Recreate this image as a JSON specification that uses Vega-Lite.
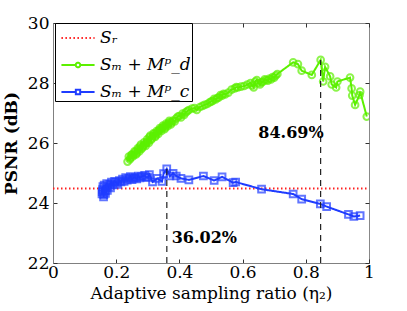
{
  "$schema": "https://vega.github.io/schema/vega-lite/v6.json",
  "width": 316,
  "height": 240,
  "autosize": {"type": "none"},
  "padding": {"left": 53, "top": 23, "right": 38, "bottom": 48},
  "background": "white",
  "config": {
    "view": {"stroke": "#888888", "strokeWidth": 1},
    "font": "DejaVu Serif",
    "axis": {
      "grid": false,
      "domainColor": "#808080",
      "tickColor": "#333333",
      "tickSize": -4,
      "labelFont": "DejaVu Serif",
      "labelFontSize": 17,
      "labelColor": "black",
      "titleFont": "DejaVu Serif",
      "titleColor": "black"
    },
    "legend": {
      "orient": "none",
      "legendX": 2,
      "legendY": 0,
      "strokeColor": "black",
      "fillColor": "white",
      "padding": 1,
      "symbolSize": 650,
      "symbolOffset": 8,
      "symbolStrokeWidth": 2,
      "labelFont": "DejaVu Serif",
      "labelFontSize": 17,
      "labelFontStyle": "italic",
      "labelColor": "black",
      "rowPadding": 5,
      "labelOffset": 8
    }
  },
  "datasets": {
    "curves": [
      {"series": "Sr", "x": 0, "y": 24.48},
      {"series": "Sr", "x": 1, "y": 24.48},
      {"series": "Md", "x": 0.236, "y": 25.38},
      {"series": "Md", "x": 0.24, "y": 25.55},
      {"series": "Md", "x": 0.243, "y": 25.45},
      {"series": "Md", "x": 0.245, "y": 25.5},
      {"series": "Md", "x": 0.248, "y": 25.6},
      {"series": "Md", "x": 0.25, "y": 25.62},
      {"series": "Md", "x": 0.253, "y": 25.55},
      {"series": "Md", "x": 0.255, "y": 25.6},
      {"series": "Md", "x": 0.258, "y": 25.72},
      {"series": "Md", "x": 0.26, "y": 25.7},
      {"series": "Md", "x": 0.263, "y": 25.62},
      {"series": "Md", "x": 0.265, "y": 25.66},
      {"series": "Md", "x": 0.268, "y": 25.82},
      {"series": "Md", "x": 0.27, "y": 25.78},
      {"series": "Md", "x": 0.273, "y": 25.72},
      {"series": "Md", "x": 0.275, "y": 25.88},
      {"series": "Md", "x": 0.278, "y": 25.95},
      {"series": "Md", "x": 0.28, "y": 25.8},
      {"series": "Md", "x": 0.283, "y": 25.85},
      {"series": "Md", "x": 0.285, "y": 25.9},
      {"series": "Md", "x": 0.288, "y": 26.02},
      {"series": "Md", "x": 0.29, "y": 25.95},
      {"series": "Md", "x": 0.293, "y": 25.9},
      {"series": "Md", "x": 0.295, "y": 26.0},
      {"series": "Md", "x": 0.298, "y": 26.12},
      {"series": "Md", "x": 0.3, "y": 26.05},
      {"series": "Md", "x": 0.303, "y": 26.0},
      {"series": "Md", "x": 0.305, "y": 26.2},
      {"series": "Md", "x": 0.308, "y": 26.25},
      {"series": "Md", "x": 0.31, "y": 26.1},
      {"series": "Md", "x": 0.313, "y": 26.15},
      {"series": "Md", "x": 0.315, "y": 26.22},
      {"series": "Md", "x": 0.318, "y": 26.32},
      {"series": "Md", "x": 0.32, "y": 26.3},
      {"series": "Md", "x": 0.323, "y": 26.2},
      {"series": "Md", "x": 0.325, "y": 26.25},
      {"series": "Md", "x": 0.328, "y": 26.4},
      {"series": "Md", "x": 0.33, "y": 26.35},
      {"series": "Md", "x": 0.333, "y": 26.3},
      {"series": "Md", "x": 0.335, "y": 26.42},
      {"series": "Md", "x": 0.338, "y": 26.5},
      {"series": "Md", "x": 0.34, "y": 26.45},
      {"series": "Md", "x": 0.343, "y": 26.4},
      {"series": "Md", "x": 0.345, "y": 26.5},
      {"series": "Md", "x": 0.348, "y": 26.58},
      {"series": "Md", "x": 0.35, "y": 26.55},
      {"series": "Md", "x": 0.353, "y": 26.46},
      {"series": "Md", "x": 0.355, "y": 26.52},
      {"series": "Md", "x": 0.358, "y": 26.65},
      {"series": "Md", "x": 0.36, "y": 26.6},
      {"series": "Md", "x": 0.363, "y": 26.56},
      {"series": "Md", "x": 0.365, "y": 26.65},
      {"series": "Md", "x": 0.368, "y": 26.74},
      {"series": "Md", "x": 0.37, "y": 26.7},
      {"series": "Md", "x": 0.373, "y": 26.62},
      {"series": "Md", "x": 0.375, "y": 26.68},
      {"series": "Md", "x": 0.38, "y": 26.75},
      {"series": "Md", "x": 0.385, "y": 26.72},
      {"series": "Md", "x": 0.39, "y": 26.82},
      {"series": "Md", "x": 0.395, "y": 26.88},
      {"series": "Md", "x": 0.4, "y": 26.9},
      {"series": "Md", "x": 0.405, "y": 26.85},
      {"series": "Md", "x": 0.41, "y": 26.98},
      {"series": "Md", "x": 0.415, "y": 26.94},
      {"series": "Md", "x": 0.42, "y": 27.02},
      {"series": "Md", "x": 0.425, "y": 27.06},
      {"series": "Md", "x": 0.43, "y": 27.1},
      {"series": "Md", "x": 0.44, "y": 27.15},
      {"series": "Md", "x": 0.448, "y": 27.16},
      {"series": "Md", "x": 0.455, "y": 27.1},
      {"series": "Md", "x": 0.465, "y": 27.2},
      {"series": "Md", "x": 0.473, "y": 27.24},
      {"series": "Md", "x": 0.48, "y": 27.27},
      {"series": "Md", "x": 0.488, "y": 27.3},
      {"series": "Md", "x": 0.495, "y": 27.35},
      {"series": "Md", "x": 0.5, "y": 27.38},
      {"series": "Md", "x": 0.505, "y": 27.4},
      {"series": "Md", "x": 0.51, "y": 27.47},
      {"series": "Md", "x": 0.515, "y": 27.45},
      {"series": "Md", "x": 0.52, "y": 27.5},
      {"series": "Md", "x": 0.525, "y": 27.52},
      {"series": "Md", "x": 0.53, "y": 27.6},
      {"series": "Md", "x": 0.535, "y": 27.58},
      {"series": "Md", "x": 0.54, "y": 27.64},
      {"series": "Md", "x": 0.545, "y": 27.62},
      {"series": "Md", "x": 0.555, "y": 27.68},
      {"series": "Md", "x": 0.565, "y": 27.78},
      {"series": "Md", "x": 0.575, "y": 27.82},
      {"series": "Md", "x": 0.58, "y": 27.86},
      {"series": "Md", "x": 0.585, "y": 27.85},
      {"series": "Md", "x": 0.595, "y": 27.88},
      {"series": "Md", "x": 0.605, "y": 27.9},
      {"series": "Md", "x": 0.615, "y": 27.95},
      {"series": "Md", "x": 0.625, "y": 28.0},
      {"series": "Md", "x": 0.63, "y": 27.92},
      {"series": "Md", "x": 0.635, "y": 27.85},
      {"series": "Md", "x": 0.64, "y": 28.05},
      {"series": "Md", "x": 0.645, "y": 28.1},
      {"series": "Md", "x": 0.65, "y": 28.0},
      {"series": "Md", "x": 0.655, "y": 27.95},
      {"series": "Md", "x": 0.66, "y": 28.02},
      {"series": "Md", "x": 0.665, "y": 28.05},
      {"series": "Md", "x": 0.67, "y": 28.12},
      {"series": "Md", "x": 0.675, "y": 28.1},
      {"series": "Md", "x": 0.68, "y": 28.08},
      {"series": "Md", "x": 0.685, "y": 28.15},
      {"series": "Md", "x": 0.69, "y": 28.12},
      {"series": "Md", "x": 0.695, "y": 28.2},
      {"series": "Md", "x": 0.7, "y": 28.18},
      {"series": "Md", "x": 0.705, "y": 28.25},
      {"series": "Md", "x": 0.71, "y": 28.3},
      {"series": "Md", "x": 0.76, "y": 28.69},
      {"series": "Md", "x": 0.775, "y": 28.63},
      {"series": "Md", "x": 0.787, "y": 28.41},
      {"series": "Md", "x": 0.819, "y": 28.27},
      {"series": "Md", "x": 0.847, "y": 28.77},
      {"series": "Md", "x": 0.855, "y": 28.05},
      {"series": "Md", "x": 0.861, "y": 28.54},
      {"series": "Md", "x": 0.877, "y": 28.22},
      {"series": "Md", "x": 0.882, "y": 27.95},
      {"series": "Md", "x": 0.896, "y": 27.85},
      {"series": "Md", "x": 0.9, "y": 28.05},
      {"series": "Md", "x": 0.94, "y": 28.18},
      {"series": "Md", "x": 0.945, "y": 27.82},
      {"series": "Md", "x": 0.947, "y": 27.58},
      {"series": "Md", "x": 0.956, "y": 27.27},
      {"series": "Md", "x": 0.97, "y": 27.6},
      {"series": "Md", "x": 0.972, "y": 27.71},
      {"series": "Md", "x": 0.993, "y": 26.88},
      {"series": "Mc", "x": 0.155, "y": 24.3},
      {"series": "Mc", "x": 0.156, "y": 24.38},
      {"series": "Mc", "x": 0.157, "y": 24.45},
      {"series": "Mc", "x": 0.158, "y": 24.55},
      {"series": "Mc", "x": 0.16, "y": 24.2},
      {"series": "Mc", "x": 0.161, "y": 24.28},
      {"series": "Mc", "x": 0.162, "y": 24.6},
      {"series": "Mc", "x": 0.165, "y": 24.4},
      {"series": "Mc", "x": 0.166, "y": 24.32},
      {"series": "Mc", "x": 0.168, "y": 24.5},
      {"series": "Mc", "x": 0.17, "y": 24.65},
      {"series": "Mc", "x": 0.172, "y": 24.42},
      {"series": "Mc", "x": 0.175, "y": 24.55},
      {"series": "Mc", "x": 0.18, "y": 24.62},
      {"series": "Mc", "x": 0.182, "y": 24.5},
      {"series": "Mc", "x": 0.185, "y": 24.7},
      {"series": "Mc", "x": 0.19, "y": 24.6},
      {"series": "Mc", "x": 0.195, "y": 24.72},
      {"series": "Mc", "x": 0.2, "y": 24.68},
      {"series": "Mc", "x": 0.205, "y": 24.62},
      {"series": "Mc", "x": 0.21, "y": 24.75},
      {"series": "Mc", "x": 0.215, "y": 24.7},
      {"series": "Mc", "x": 0.22, "y": 24.8},
      {"series": "Mc", "x": 0.225, "y": 24.72},
      {"series": "Mc", "x": 0.23, "y": 24.85},
      {"series": "Mc", "x": 0.235, "y": 24.76},
      {"series": "Mc", "x": 0.24, "y": 24.82},
      {"series": "Mc", "x": 0.245, "y": 24.88},
      {"series": "Mc", "x": 0.25, "y": 24.78},
      {"series": "Mc", "x": 0.255, "y": 24.84},
      {"series": "Mc", "x": 0.26, "y": 24.85},
      {"series": "Mc", "x": 0.265, "y": 24.8},
      {"series": "Mc", "x": 0.27, "y": 24.9},
      {"series": "Mc", "x": 0.275, "y": 24.84},
      {"series": "Mc", "x": 0.28, "y": 24.88},
      {"series": "Mc", "x": 0.29, "y": 24.92},
      {"series": "Mc", "x": 0.295, "y": 24.86},
      {"series": "Mc", "x": 0.3, "y": 24.85},
      {"series": "Mc", "x": 0.305, "y": 24.95},
      {"series": "Mc", "x": 0.315, "y": 24.7},
      {"series": "Mc", "x": 0.33, "y": 24.82},
      {"series": "Mc", "x": 0.345, "y": 24.72},
      {"series": "Mc", "x": 0.35, "y": 24.98},
      {"series": "Mc", "x": 0.36, "y": 25.14},
      {"series": "Mc", "x": 0.37, "y": 24.9},
      {"series": "Mc", "x": 0.38, "y": 24.99},
      {"series": "Mc", "x": 0.39, "y": 24.9},
      {"series": "Mc", "x": 0.405, "y": 24.82},
      {"series": "Mc", "x": 0.43, "y": 24.77},
      {"series": "Mc", "x": 0.476, "y": 24.9},
      {"series": "Mc", "x": 0.51, "y": 24.75},
      {"series": "Mc", "x": 0.535, "y": 24.87},
      {"series": "Mc", "x": 0.57, "y": 24.68},
      {"series": "Mc", "x": 0.578, "y": 24.7},
      {"series": "Mc", "x": 0.66, "y": 24.46},
      {"series": "Mc", "x": 0.76, "y": 24.3},
      {"series": "Mc", "x": 0.787, "y": 24.13},
      {"series": "Mc", "x": 0.846, "y": 23.97},
      {"series": "Mc", "x": 0.866, "y": 23.88},
      {"series": "Mc", "x": 0.935, "y": 23.62},
      {"series": "Mc", "x": 0.952, "y": 23.55},
      {"series": "Mc", "x": 0.972, "y": 23.58}
    ],
    "markers": [
      {"x": 0.3602, "y": 22, "y2": 25.14},
      {"x": 0.8469, "y": 22, "y2": 28.77}
    ],
    "labels": [
      {"x": 0.753, "y": 26.32, "label": "84.69%"},
      {"x": 0.479, "y": 22.83, "label": "36.02%"}
    ]
  },
  "resolve": {"axis": {"x": "independent", "y": "independent"}},
  "layer": [
    {
      "data": {"name": "curves"},
      "mark": {"type": "line", "strokeWidth": 2, "clip": true},
      "encoding": {
        "x": {"field": "x", "type": "quantitative", "scale": {"domain": [0, 1], "nice": false, "zero": false},
          "axis": {"orient": "bottom", "values": [0, 0.2, 0.4, 0.6, 0.8, 1], "labelExpr": "datum.value === 0 ? '0' : datum.value === 1 ? '1' : format(datum.value, '.1f')", "title": "Adaptive sampling ratio (η₂)", "titleFontSize": 17, "titleFontWeight": "normal", "labelPadding": 5, "titlePadding": 5, "labelFlush": false}},
        "y": {"field": "y", "type": "quantitative", "scale": {"domain": [22, 30], "nice": false, "zero": false},
          "axis": {"orient": "left", "values": [22, 24, 26, 28, 30], "title": "PSNR (dB)", "titleFontSize": 17, "titleFontWeight": "bold", "labelPadding": 8, "titlePadding": 7}},
        "color": {"field": "series", "type": "nominal",
          "scale": {"domain": ["Sr", "Md", "Mc"], "range": ["#ff2020", "#5cf000", "#1f3cff"]},
          "legend": {
            "title": null,
            "labelExpr": "datum.value === 'Sr' ? 'Sᵣ' : datum.value === 'Md' ? 'Sₘ + Mᵖ_d' : 'Sₘ + Mᵖ_c'",
            "encode": {
              "symbols": {
                "update": {
                  "shape": {"signal": "datum.value === 'Sr' ? 'M-1.3,0H1.3' : datum.value === 'Md' ? 'M-1.3,0H-0.18M0.18,0H1.3M0.18,0A0.18,0.18,0,1,1,-0.18,0A0.18,0.18,0,1,1,0.18,0Z' : 'M-1.3,0H-0.17M0.17,0H1.3M-0.17,-0.17H0.17V0.17H-0.17Z'"},
                  "strokeDash": {"signal": "datum.value === 'Sr' ? [1.5, 2.5] : [1, 0]"},
                  "fill": {"value": "transparent"},
                  "strokeWidth": {"value": 2}
                }
              }
            }
          }},
        "strokeDash": {"field": "series", "type": "nominal",
          "scale": {"domain": ["Sr", "Md", "Mc"], "range": [[1.5, 2.5], [1, 0], [1, 0]]},
          "legend": null}
      }
    },
    {
      "data": {"name": "curves"},
      "transform": [{"filter": "datum.series !== 'Sr'"}],
      "mark": {"type": "point", "filled": false, "size": 45, "strokeWidth": 2, "clip": true},
      "encoding": {
        "x": {"field": "x", "type": "quantitative", "scale": {"domain": [0, 1], "nice": false, "zero": false}, "axis": null},
        "y": {"field": "y", "type": "quantitative", "scale": {"domain": [22, 30], "nice": false, "zero": false}, "axis": null},
        "color": {"field": "series", "type": "nominal", "scale": {"domain": ["Sr", "Md", "Mc"], "range": ["#ff2020", "#5cf000", "#1f3cff"]}, "legend": null},
        "shape": {"field": "series", "type": "nominal", "scale": {"domain": ["Md", "Mc"], "range": ["circle", "square"]}, "legend": null}
      }
    },
    {
      "data": {"name": "markers"},
      "mark": {"type": "rule", "color": "#222222", "strokeWidth": 1.2, "strokeDash": [6, 5]},
      "encoding": {
        "x": {"field": "x", "type": "quantitative", "scale": {"domain": [0, 1], "nice": false, "zero": false},
          "axis": {"orient": "top", "values": [0, 0.2, 0.4, 0.6, 0.8, 1], "labels": false, "title": null, "domain": false}},
        "y": {"field": "y", "type": "quantitative", "scale": {"domain": [22, 30], "nice": false, "zero": false},
          "axis": {"orient": "right", "values": [22, 24, 26, 28, 30], "labels": false, "title": null, "domain": false}},
        "y2": {"field": "y2"}
      }
    },
    {
      "data": {"name": "labels"},
      "mark": {"type": "text", "font": "DejaVu Serif", "fontSize": 16, "fontWeight": "bold", "align": "center", "baseline": "middle", "color": "black"},
      "encoding": {
        "x": {"field": "x", "type": "quantitative", "scale": {"domain": [0, 1], "nice": false, "zero": false}, "axis": null},
        "y": {"field": "y", "type": "quantitative", "scale": {"domain": [22, 30], "nice": false, "zero": false}, "axis": null},
        "text": {"field": "label"}
      }
    }
  ]
}
